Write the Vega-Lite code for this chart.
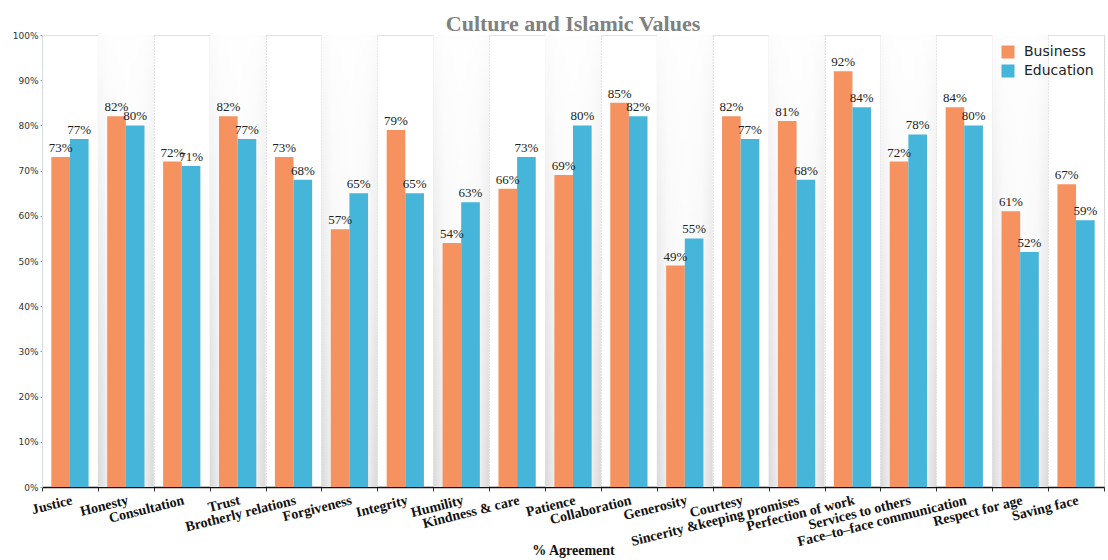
{
  "$schema": "https://vega.github.io/schema/vega-lite/v6.json",
  "autosize": {"type": "none"},
  "width": 1062,
  "height": 452,
  "padding": {"left": 42, "top": 35, "right": 4, "bottom": 73},
  "background": "white",
  "title": {
    "text": "Culture and Islamic Values",
    "font": "Liberation Serif",
    "fontSize": 22,
    "fontWeight": "bold",
    "color": "#808080",
    "anchor": "middle",
    "offset": -5
  },
  "config": {
    "view": {"stroke": "#e2e2e2"},
    "axisY": {
      "title": null,
      "format": ".0%",
      "values": [0, 0.1, 0.2, 0.3, 0.4, 0.5, 0.6, 0.7, 0.8, 0.9, 1],
      "labelOverlap": false,
      "labelFont": "DejaVu Sans",
      "labelFontSize": 9,
      "labelColor": "#333",
      "labelPadding": 2,
      "tickSize": 2,
      "tickColor": "#999",
      "domainColor": "#d3dde3",
      "grid": false
    }
  },
  "data": {
    "values": [
      {"cat": "Justice", "group": "Business", "value": 0.73},
      {"cat": "Justice", "group": "Education", "value": 0.77},
      {"cat": "Honesty", "group": "Business", "value": 0.82},
      {"cat": "Honesty", "group": "Education", "value": 0.80},
      {"cat": "Consultation", "group": "Business", "value": 0.72},
      {"cat": "Consultation", "group": "Education", "value": 0.71},
      {"cat": "Trust", "group": "Business", "value": 0.82},
      {"cat": "Trust", "group": "Education", "value": 0.77},
      {"cat": "Brotherly relations", "group": "Business", "value": 0.73},
      {"cat": "Brotherly relations", "group": "Education", "value": 0.68},
      {"cat": "Forgiveness", "group": "Business", "value": 0.57},
      {"cat": "Forgiveness", "group": "Education", "value": 0.65},
      {"cat": "Integrity", "group": "Business", "value": 0.79},
      {"cat": "Integrity", "group": "Education", "value": 0.65},
      {"cat": "Humility", "group": "Business", "value": 0.54},
      {"cat": "Humility", "group": "Education", "value": 0.63},
      {"cat": "Kindness & care", "group": "Business", "value": 0.66},
      {"cat": "Kindness & care", "group": "Education", "value": 0.73},
      {"cat": "Patience", "group": "Business", "value": 0.69},
      {"cat": "Patience", "group": "Education", "value": 0.80},
      {"cat": "Collaboration", "group": "Business", "value": 0.85},
      {"cat": "Collaboration", "group": "Education", "value": 0.82},
      {"cat": "Generosity", "group": "Business", "value": 0.49},
      {"cat": "Generosity", "group": "Education", "value": 0.55},
      {"cat": "Courtesy", "group": "Business", "value": 0.82},
      {"cat": "Courtesy", "group": "Education", "value": 0.77},
      {"cat": "Sincerity &keeping promises", "group": "Business", "value": 0.81},
      {"cat": "Sincerity &keeping promises", "group": "Education", "value": 0.68},
      {"cat": "Perfection of work", "group": "Business", "value": 0.92},
      {"cat": "Perfection of work", "group": "Education", "value": 0.84},
      {"cat": "Services to others", "group": "Business", "value": 0.72},
      {"cat": "Services to others", "group": "Education", "value": 0.78},
      {"cat": "Face–to–face communication", "group": "Business", "value": 0.84},
      {"cat": "Face–to–face communication", "group": "Education", "value": 0.80},
      {"cat": "Respect for age", "group": "Business", "value": 0.61},
      {"cat": "Respect for age", "group": "Education", "value": 0.52},
      {"cat": "Saving face", "group": "Business", "value": 0.67},
      {"cat": "Saving face", "group": "Education", "value": 0.59}
    ]
  },
  "encoding": {
    "x": {
      "field": "cat",
      "type": "nominal",
      "scale": {
        "domain": ["Justice", "Honesty", "Consultation", "Trust", "Brotherly relations", "Forgiveness", "Integrity", "Humility", "Kindness & care", "Patience", "Collaboration", "Generosity", "Courtesy", "Sincerity &keeping promises", "Perfection of work", "Services to others", "Face–to–face communication", "Respect for age", "Saving face"],
        "paddingInner": 0,
        "paddingOuter": 0
      },
      "axis": {
        "title": "% Agreement",
        "titleFont": "Liberation Serif",
        "titleFontSize": 14,
        "titleFontWeight": "bold",
        "titleColor": "#111",
        "titleY": 56,
        "labelFont": "Liberation Serif",
        "labelFontSize": 14,
        "labelFontWeight": "bold",
        "labelColor": "#111",
        "labelAngle": -14,
        "labelAlign": "right",
        "labelBaseline": "top",
        "labelPadding": 2,
        "labelLimit": 400,
        "labelOverlap": false,
        "tickBand": "extent",
        "tickSize": 4,
        "tickColor": "#333",
        "domainColor": "#111",
        "domainWidth": 1.5,
        "grid": true,
        "gridColor": "#c8c8c8",
        "gridDash": [1, 2]
      }
    }
  },
  "layer": [
    {
      "data": {
        "values": [
          {"cat": "Honesty"}, {"cat": "Trust"}, {"cat": "Forgiveness"}, {"cat": "Humility"},
          {"cat": "Patience"}, {"cat": "Generosity"}, {"cat": "Sincerity &keeping promises"},
          {"cat": "Services to others"}, {"cat": "Respect for age"}
        ]
      },
      "mark": {
        "type": "bar",
        "fill": {
          "gradient": "linear",
          "x1": 0, "y1": 0, "x2": 1, "y2": 0,
          "stops": [
            {"offset": 0, "color": "#d9d9d9"},
            {"offset": 0.2, "color": "#f2f2f2"},
            {"offset": 0.5, "color": "#f8f8f8"},
            {"offset": 0.8, "color": "#f2f2f2"},
            {"offset": 1, "color": "#d9d9d9"}
          ]
        }
      },
      "encoding": {
        "x": {"field": "cat", "type": "nominal"}
      }
    },
    {
      "data": {
        "values": [
          {"cat": "Honesty"}, {"cat": "Trust"}, {"cat": "Forgiveness"}, {"cat": "Humility"},
          {"cat": "Patience"}, {"cat": "Generosity"}, {"cat": "Sincerity &keeping promises"},
          {"cat": "Services to others"}, {"cat": "Respect for age"}
        ]
      },
      "mark": {
        "type": "bar",
        "fill": {
          "gradient": "linear",
          "x1": 0, "y1": 0, "x2": 0, "y2": 1,
          "stops": [
            {"offset": 0, "color": "rgba(255,255,255,0.9)"},
            {"offset": 1, "color": "rgba(255,255,255,0)"}
          ]
        }
      },
      "encoding": {
        "x": {"field": "cat", "type": "nominal"}
      }
    },
    {
      "mark": {"type": "bar"},
      "encoding": {
        "y": {"field": "value", "type": "quantitative", "scale": {"domain": [0, 1], "nice": false}},
        "xOffset": {
          "field": "group",
          "type": "nominal",
          "scale": {"paddingInner": 0, "paddingOuter": 0.5}
        },
        "color": {
          "field": "group",
          "type": "nominal",
          "scale": {"domain": ["Business", "Education"], "range": ["#f59260", "#45b6da"]},
          "legend": {
            "title": null,
            "orient": "top-right",
            "offset": 10,
            "symbolType": "square",
            "symbolSize": 170,
            "symbolStrokeWidth": 0,
            "labelFont": "DejaVu Sans",
            "labelFontSize": 14,
            "labelColor": "#222",
            "labelOffset": 9,
            "rowPadding": 5
          }
        }
      }
    },
    {
      "mark": {"type": "text", "baseline": "bottom", "dy": -2, "font": "Liberation Serif", "fontSize": 13, "color": "#222"},
      "encoding": {
        "y": {"field": "value", "type": "quantitative"},
        "xOffset": {"field": "group", "type": "nominal"},
        "text": {"field": "value", "type": "quantitative", "format": ".0%"}
      }
    }
  ]
}
